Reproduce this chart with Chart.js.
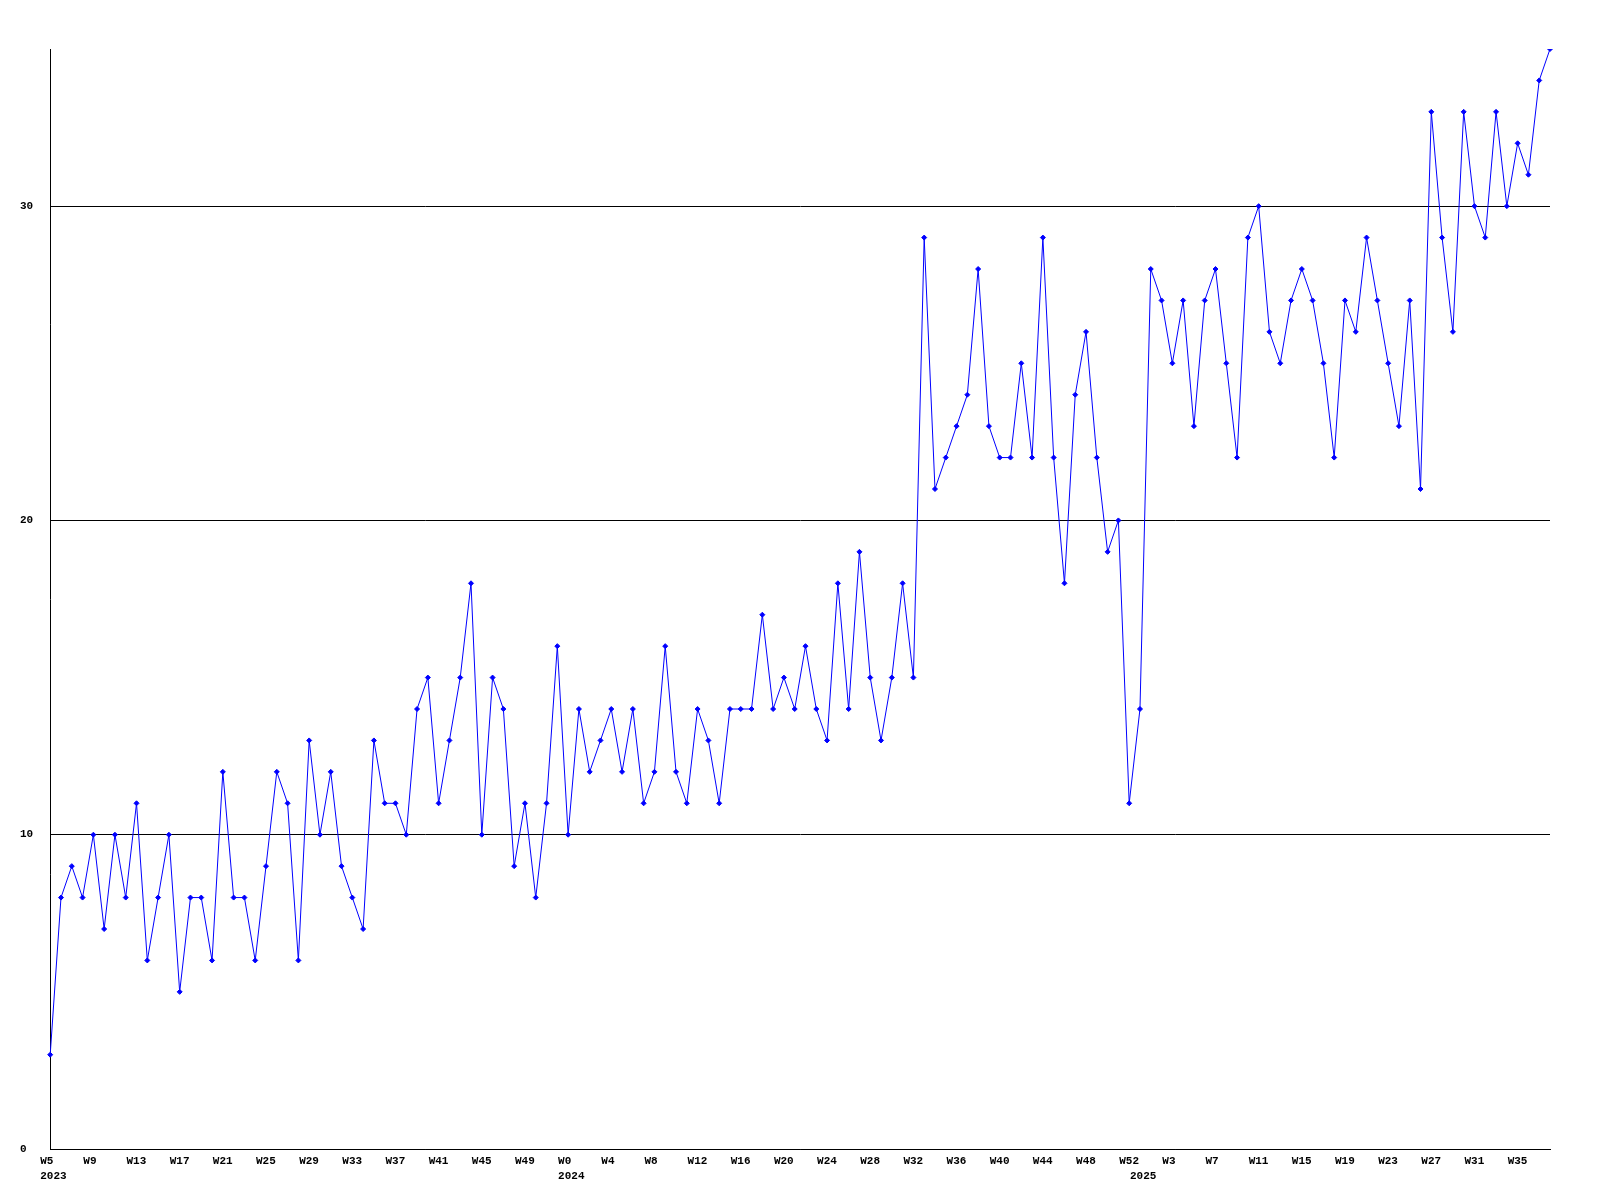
<!DOCTYPE html>
<html>
<head>
<meta charset="utf-8">
<script src="https://cdn.jsdelivr.net/npm/chart.js@4.4.1/dist/chart.umd.min.js"></script>
<style>
  body { margin: 0; background: #fff; }
  #wrap { width: 1600px; height: 1200px; }
</style>
</head>
<body>
<div id="wrap"><canvas id="weeklyChart" width="1600" height="1200"></canvas></div>
<script>
// week ranges per year
const years = ['2023', '2024', '2025'];
const firstWeek = [5, 0, 0];
const lastWeek = [52, 52, 38];

// weekly counts
const counts = [
    3, 8, 9, 8, 10, 7, 10, 8, 11, 6, 8, 10, 5, 8, 8, 6, 12, 8, 8, 6,
    9, 12, 11, 6, 13, 10, 12, 9, 8, 7, 13, 11, 11, 10, 14, 15, 11,
    13, 15, 18, 10, 15, 14, 9, 11, 8, 11, 16, 10, 14, 12, 13, 14, 12, 14,
    11, 12, 16, 12, 11, 14, 13, 11, 14, 14, 14, 17, 14, 15, 14, 16, 14,
    13, 18, 14, 19, 15, 13, 15, 18, 15, 29, 21, 22, 23, 24, 28, 23, 22,
    22, 25, 22, 29, 22, 18, 24, 26, 22, 19, 20, 11, 14, 28, 27, 25,
    27, 23, 27, 28, 25, 22, 29, 30, 26, 25, 27, 28, 27, 25, 22, 27, 26,
    29, 27, 25, 23, 27, 21, 33, 29, 26, 33, 30, 29, 33, 30, 32, 31, 34, 35
];

const yTicks = [0, 10, 20, 30];
const labelEvery = 4;

// build categories + where each year begins
const labels = [];
const yearStart = {};
years.forEach((y, i) => {
    yearStart[labels.length] = y;
    for (let w = firstWeek[i]; w <= lastWeek[i]; w++) {
        labels.push('W' + w);
    }
});

const font = { family: 'Liberation Mono', size: 11, weight: 'bold' };

const ctx = document.getElementById('weeklyChart').getContext('2d');

new Chart(ctx, {
    type: 'line',
    data: {
        labels: labels,
        datasets: [{
            data: counts,
            borderColor: '#0000ff',
            backgroundColor: '#0000ff',
            borderWidth: 1,
            tension: 0,
            fill: false,
            pointStyle: 'rectRot',
            pointRadius: 2.5,
            pointBorderWidth: 1,
        }]
    },
    options: {
        responsive: false,
        animation: false,
        layout: {
            padding: { top: 49, left: 20, right: 50, bottom: 11 }
        },
        plugins: {
            legend: { display: false },
            tooltip: { enabled: false }
        },
        scales: {
            x: {
                type: 'category',
                grid: { display: false, drawTicks: false },
                border: { display: true, color: '#000', width: 1 },
                afterBuildTicks: (axis) => {
                    axis.ticks = labels
                        .map((l, i) => ({ value: i }))
                        .filter(t => t.value % labelEvery === 0 || yearStart[t.value]);
                },
                ticks: {
                    autoSkip: false,
                    maxRotation: 0,
                    align: 'start',
                    labelOffset: -10,
                    padding: 5,
                    color: '#000',
                    font: { ...font, lineHeight: 15 / 11 },
                    callback: (value) => {
                        const wk = value % labelEvery === 0 ? labels[value] : '';
                        return yearStart[value] ? [wk, yearStart[value]] : wk;
                    }
                }
            },
            y: {
                min: 0,
                max: 35,
                grid: { color: '#000', lineWidth: 1, drawTicks: false },
                border: { display: true, color: '#000', width: 1 },
                afterBuildTicks: (axis) => {
                    axis.ticks = yTicks.map(v => ({ value: v }));
                },
                ticks: {
                    crossAlign: 'far',
                    padding: 8.5,
                    color: '#000',
                    font: font
                }
            }
        }
    }
});
</script>
</body>
</html>
